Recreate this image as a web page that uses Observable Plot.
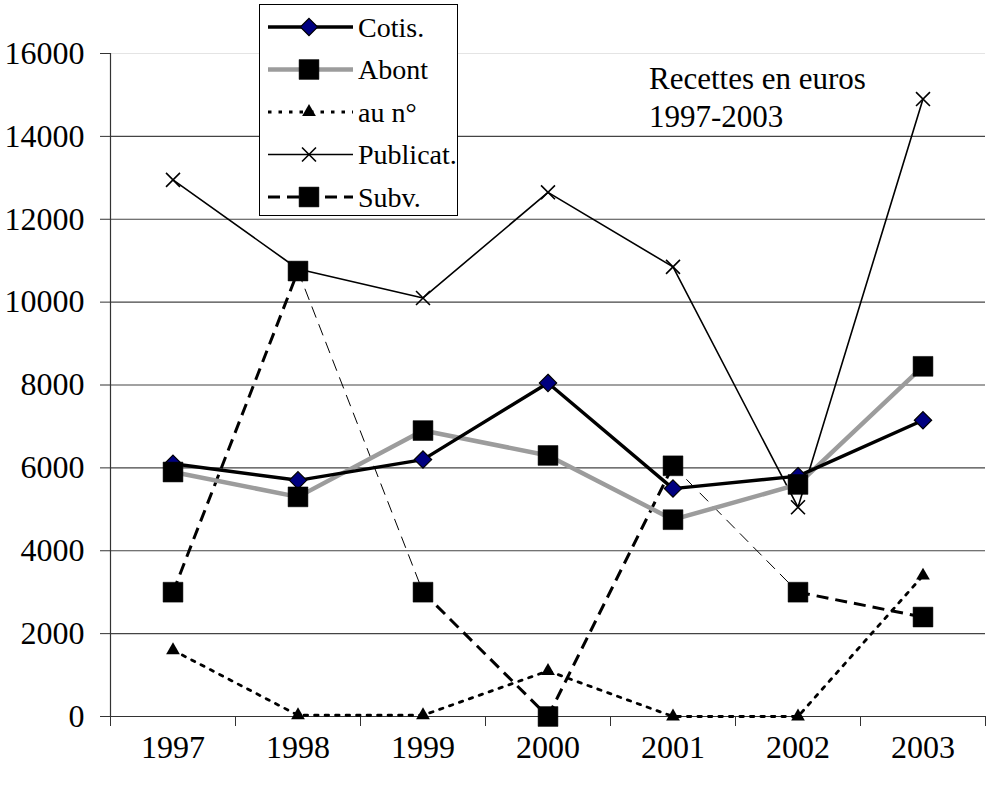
<!DOCTYPE html>
<html>
<head>
<meta charset="utf-8">
<script src="https://cdn.jsdelivr.net/npm/d3@7"></script>
<script src="https://cdn.jsdelivr.net/npm/@observablehq/plot@0.6"></script>
<style>
  html, body { margin: 0; padding: 0; background: #fff; }
  #wrap { position: relative; width: 1003px; height: 785px; font-family: 'Liberation Serif', 'DejaVu Serif', serif; }
  #title { position: absolute; left: 649px; top: 60px; font-size: 31px; line-height: 38px; color: #000; }
  #legend { position: absolute; left: 259px; top: 4px; }
  svg text { font-family: 'Liberation Serif', 'DejaVu Serif', serif; }
</style>
</head>
<body>
<div id="wrap">
  <div id="chart"></div>
  <div id="title">Recettes en euros<br>1997-2003</div>
  <div id="legend"></div>
</div>
<script>
// ---- data ----
const years = [1997, 1998, 1999, 2000, 2001, 2002, 2003];
const cotis = [6100, 5700, 6200, 8050, 5500, 5800, 7150];
const abont = [5900, 5300, 6900, 6300, 4750, 5600, 8450];
const auNo = [1600, 30, 30, 1100, 0, 0, 3400];
const publicat = [12950, 10800, 10100, 12650, 10850, 5050, 14900];
const subv = [3000, 10750, 3000, 0, 6050, 3000, 2400];
const seriesNames = ["Cotis.", "Abont", "au n°", "Publicat.", "Subv."];
const yTicks = [0, 2000, 4000, 6000, 8000, 10000, 12000, 14000, 16000];

// ---- styling (not data) ----
const subvHeavySegment = [true, false, true, true, false, true];

const rows = (vals) => years.map((y, i) => ({year: y, value: vals[i]}));
const segs = (vals) => years.slice(1).map((y, i) => ({x1: years[i], y1: vals[i], x2: y, y2: vals[i + 1], heavy: subvHeavySegment[i]}));

const cotisD = rows(cotis), abontD = rows(abont), auNoD = rows(auNo), pubD = rows(publicat), subvD = rows(subv);
const subvSegs = segs(subv);
const bounds = years.map(y => y - 0.5).concat([years[years.length - 1] + 0.5]);
const xDomain = [years[0] - 0.5, years[years.length - 1] + 0.5];

const fontFam = "'Liberation Serif', 'DejaVu Serif', serif";

const chart = Plot.plot({
  width: 1003,
  height: 785,
  marginLeft: 110,
  marginRight: 18,
  marginTop: 53,
  marginBottom: 69,
  style: {fontFamily: fontFam, background: "#fff", overflow: "visible"},
  x: {type: "linear", domain: xDomain, axis: null},
  y: {domain: [0, 16000], axis: null},
  marks: [
    Plot.ruleY(yTicks.filter(t => t > 0 && t < 16000), {stroke: "#444", strokeWidth: 1.2}),
    Plot.ruleY([16000], {stroke: "#e4e4e4", strokeWidth: 1}),
    Plot.axisY({ticks: yTicks, tickSize: 10, tickPadding: 16, fontSize: 32, stroke: "#333", fill: "#000", tickFormat: d => String(d)}),
    Plot.ruleX([xDomain[0]], {stroke: "#333", strokeWidth: 1.2}),
    Plot.ruleY([0], {stroke: "#333", strokeWidth: 1.2}),
    Plot.axisX({ticks: bounds, tickSize: 10, tickFormat: () => "", stroke: "#333"}),
    Plot.axisX({ticks: years, tickSize: 0, tickPadding: 19, fontSize: 32, fill: "#000", tickFormat: d => String(d)}),
    Plot.line(pubD, {x: "year", y: "value", stroke: "#000", strokeWidth: 1.6}),
    Plot.line(auNoD, {x: "year", y: "value", stroke: "#000", strokeWidth: 2.8, strokeDasharray: "3.5,7"}),
    Plot.link(subvSegs.filter(d => d.heavy), {x1: "x1", y1: "y1", x2: "x2", y2: "y2", stroke: "#000", strokeWidth: 3, strokeDasharray: "12,7"}),
    Plot.link(subvSegs.filter(d => !d.heavy), {x1: "x1", y1: "y1", x2: "x2", y2: "y2", stroke: "#000", strokeWidth: 1, strokeDasharray: "12,7"}),
    Plot.line(abontD, {x: "year", y: "value", stroke: "#9c9c9c", strokeWidth: 4.5}),
    Plot.line(cotisD, {x: "year", y: "value", stroke: "#000", strokeWidth: 3.4}),
    Plot.dot(pubD, {x: "year", y: "value", symbol: "times", r: 6.4, stroke: "#000", strokeWidth: 1.6}),
    Plot.dot(auNoD, {x: "year", y: "value", symbol: "triangle", r: 5.1, fill: "#000", stroke: "none"}),
    Plot.dot(subvD, {x: "year", y: "value", symbol: "square", r: 11.2, fill: "#000", stroke: "#000", strokeWidth: 0.5}),
    Plot.dot(cotisD, {x: "year", y: "value", symbol: "diamond2", r: 7.8, fill: "#000080", stroke: "#000", strokeWidth: 1.2}),
    Plot.dot(abontD, {x: "year", y: "value", symbol: "square", r: 11.2, fill: "#000", stroke: "#000", strokeWidth: 0.5})
  ]
});
document.getElementById("chart").appendChild(chart);

// ---- legend ----
const lw = 198, lh = 211;
const lsvg = d3.select("#legend").append("svg").attr("width", lw + 3).attr("height", lh + 3)
  .style("font-family", fontFam).style("overflow", "visible");
lsvg.append("rect").attr("x", 0.5).attr("y", 0.5).attr("width", lw).attr("height", lh)
  .attr("fill", "#fff").attr("stroke", "#000").attr("stroke-width", 1);
const sym = (type, r) => d3.symbol(type, Math.PI * r * r)();
const legendStyles = [
  {line: {stroke: "#000", w: 3.4, dash: null}, marker: {path: sym(d3.symbolDiamond2, 7.8), fill: "#000080", stroke: "#000", sw: 1.2}},
  {line: {stroke: "#9c9c9c", w: 4.5, dash: null}, marker: {path: sym(d3.symbolSquare, 11.2), fill: "#000", stroke: "#000", sw: 0.5}},
  {line: {stroke: "#000", w: 2.8, dash: "3.5,7"}, marker: {path: sym(d3.symbolTriangle, 5.1), fill: "#000", stroke: "none", sw: 0}},
  {line: {stroke: "#000", w: 1.6, dash: null}, marker: {path: sym(d3.symbolTimes, 6.4), fill: "none", stroke: "#000", sw: 1.6}},
  {line: {stroke: "#000", w: 3, dash: "12,7"}, marker: {path: sym(d3.symbolSquare, 11.2), fill: "#000", stroke: "#000", sw: 0.5}}
];
seriesNames.forEach((name, i) => {
  const cy = 23 + i * 42.5;
  const s = legendStyles[i];
  const g = lsvg.append("g");
  g.append("line").attr("x1", 9).attr("x2", 94).attr("y1", cy).attr("y2", cy)
    .attr("stroke", s.line.stroke).attr("stroke-width", s.line.w)
    .attr("stroke-dasharray", s.line.dash);
  g.append("path").attr("d", s.marker.path).attr("transform", `translate(50,${cy})`)
    .attr("fill", s.marker.fill).attr("stroke", s.marker.stroke).attr("stroke-width", s.marker.sw);
  g.append("text").attr("x", 99).attr("y", cy).attr("dy", "0.35em")
    .attr("font-size", 28).attr("fill", "#000").text(name);
});
</script>
</body>
</html>
